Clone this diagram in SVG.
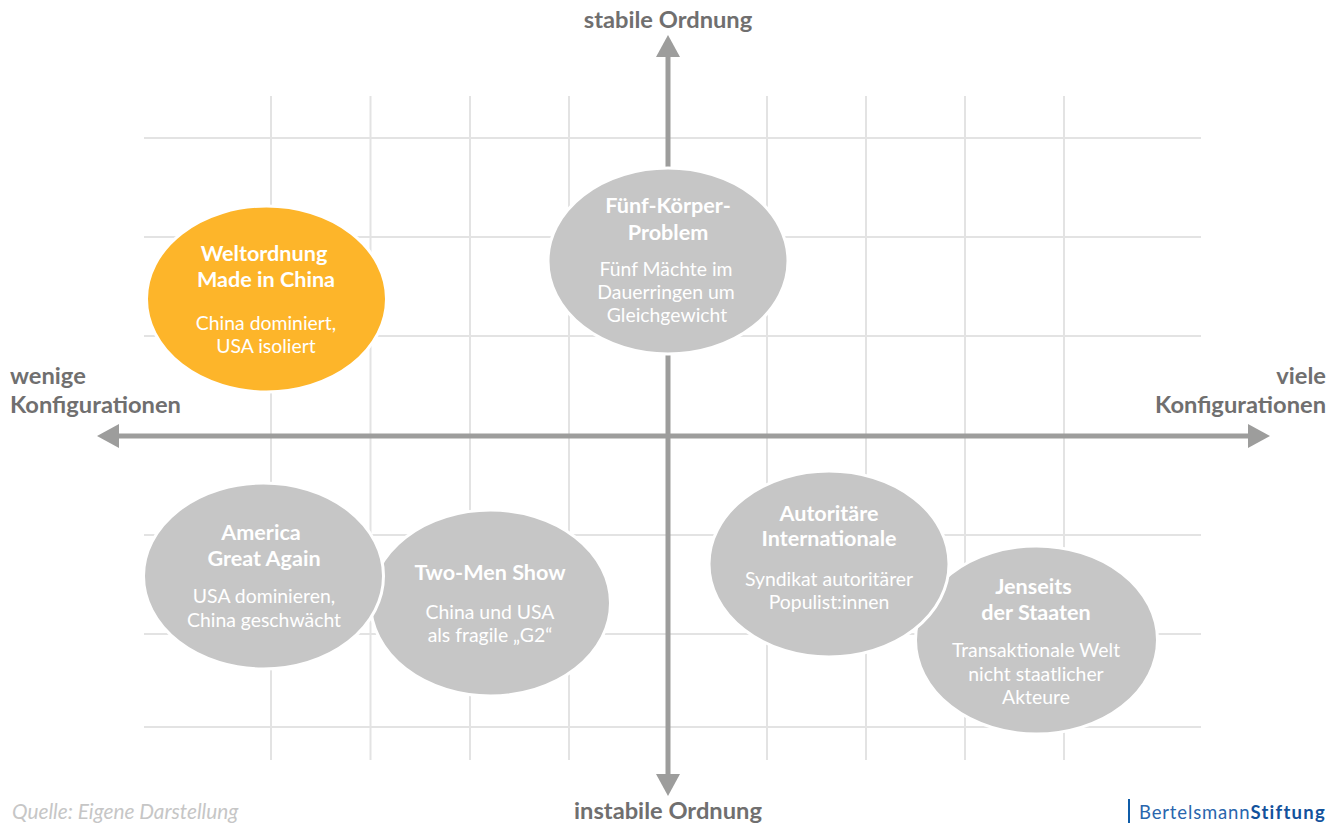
<svg xmlns="http://www.w3.org/2000/svg" width="1340" height="823" viewBox="0 0 1340 823">
<style>
text{font-family:Lato,"Noto Sans","Liberation Sans",sans-serif;text-anchor:middle}
.grid line{stroke:#e3e3e3;stroke-width:2}
.axis{stroke:#9d9d9c;stroke-width:5;fill:none}
.head{fill:#9d9d9c}
.oval{fill:#c6c6c6;stroke:#fff;stroke-width:3}
.orange{fill:#fdb52a}
.t{font-weight:700;font-size:21.6px;fill:#fff}
.s{font-size:19.4px;fill:#fff}
.lab{font-weight:700;font-size:23.7px;fill:#706f6f}
</style>
<defs><marker id="arrow" markerUnits="userSpaceOnUse" markerWidth="23" markerHeight="24" refX="1" refY="12" orient="auto-start-reverse"><path class="head" d="M0 0L22 12L0 24Z"/></marker></defs>
<g id="grid" class="grid">
<line x1="271" y1="96" x2="271" y2="760"/><line x1="370.500" y1="96" x2="370.500" y2="760"/><line x1="470" y1="96" x2="470" y2="760"/><line x1="569" y1="96" x2="569" y2="760"/><line x1="767" y1="96" x2="767" y2="760"/><line x1="866" y1="96" x2="866" y2="760"/><line x1="965" y1="96" x2="965" y2="760"/><line x1="1064" y1="96" x2="1064" y2="760"/>
<line x1="144" y1="138" x2="1201" y2="138"/><line x1="144" y1="237" x2="1201" y2="237"/><line x1="144" y1="336" x2="1201" y2="336"/><line x1="144" y1="535" x2="1201" y2="535"/><line x1="144" y1="634" x2="1201" y2="634"/><line x1="144" y1="727" x2="1201" y2="727"/>
</g>
<g id="connectors">
<line class="axis" x1="668" y1="775" x2="668" y2="56" marker-start="url(#arrow)" marker-end="url(#arrow)"/>
<line class="axis" x1="118" y1="436" x2="1249" y2="436" marker-start="url(#arrow)" marker-end="url(#arrow)"/>
</g>
<g id="weltordnung"><ellipse class="oval orange" cx="266.500" cy="299" rx="120" ry="93"/>
<text class="t" x="264" y="261">Weltordnung</text><text class="t" x="266" y="287">Made in China</text><text class="s" x="266" y="330">China dominiert,</text><text class="s" x="266" y="353">USA isoliert</text></g>
<g id="fuenf"><ellipse class="oval" cx="668" cy="261" rx="120" ry="93"/>
<text class="t" x="668" y="213">Fünf-Körper-</text><text class="t" x="668" y="240">Problem</text><text class="s" x="666" y="276">Fünf Mächte im</text><text class="s" x="666" y="299">Dauerringen um</text><text class="s" x="667" y="322">Gleichgewicht</text></g>
<g id="twomen"><ellipse class="oval" cx="490.500" cy="603" rx="120" ry="93"/>
<text class="t" x="490" y="580">Two-Men Show</text><text class="s" x="490" y="619">China und USA</text><text class="s" x="490" y="642">als fragile „G2“</text></g>
<g id="america"><ellipse class="oval" cx="263.500" cy="576" rx="120" ry="93"/>
<text class="t" x="261" y="540">America</text><text class="t" x="264" y="566">Great Again</text><text class="s" x="264" y="603">USA dominieren,</text><text class="s" x="264" y="627">China geschwächt</text></g>
<g id="jenseits"><ellipse class="oval" cx="1036.500" cy="640" rx="121" ry="94"/>
<text class="t" x="1033.500" y="594">Jenseits</text><text class="t" x="1036" y="620">der Staaten</text><text class="s" x="1036" y="657">Transaktionale Welt</text><text class="s" x="1036" y="681">nicht staatlicher</text><text class="s" x="1036" y="704">Akteure</text></g>
<g id="autoritaer"><ellipse class="oval" cx="829" cy="564" rx="120" ry="93"/>
<text class="t" x="829" y="521">Autoritäre</text><text class="t" x="829" y="546">Internationale</text><text class="s" x="829" y="586">Syndikat autoritärer</text><text class="s" x="829" y="609">Populist:innen</text></g>
<g id="labels">
<text class="lab" x="668" y="28">stabile Ordnung</text>
<text class="lab" x="668" y="819">instabile Ordnung</text>
<text class="lab" x="10" y="384" style="text-anchor:start">wenige</text>
<text class="lab" x="10" y="412.500" style="text-anchor:start">Konfigurationen</text>
<text class="lab" x="1326" y="384" style="text-anchor:end">viele</text>
<text class="lab" x="1326" y="412.500" style="text-anchor:end">Konfigurationen</text>
<text x="12" y="819" style="text-anchor:start;font-style:italic;font-size:20.8px;fill:#c6c6c6">Quelle: Eigene Darstellung</text>
</g>
<g id="logo"><line x1="1129" y1="799" x2="1129" y2="823" stroke="#0f5ca8" stroke-width="2"/>
<text x="1139" y="819" style="text-anchor:start;font-size:18.5px;fill:#2a66ad;letter-spacing:.85px">Bertelsmann<tspan font-weight="700" fill="#13529c" letter-spacing="1.25">Stiftung</tspan></text></g>
</svg>
